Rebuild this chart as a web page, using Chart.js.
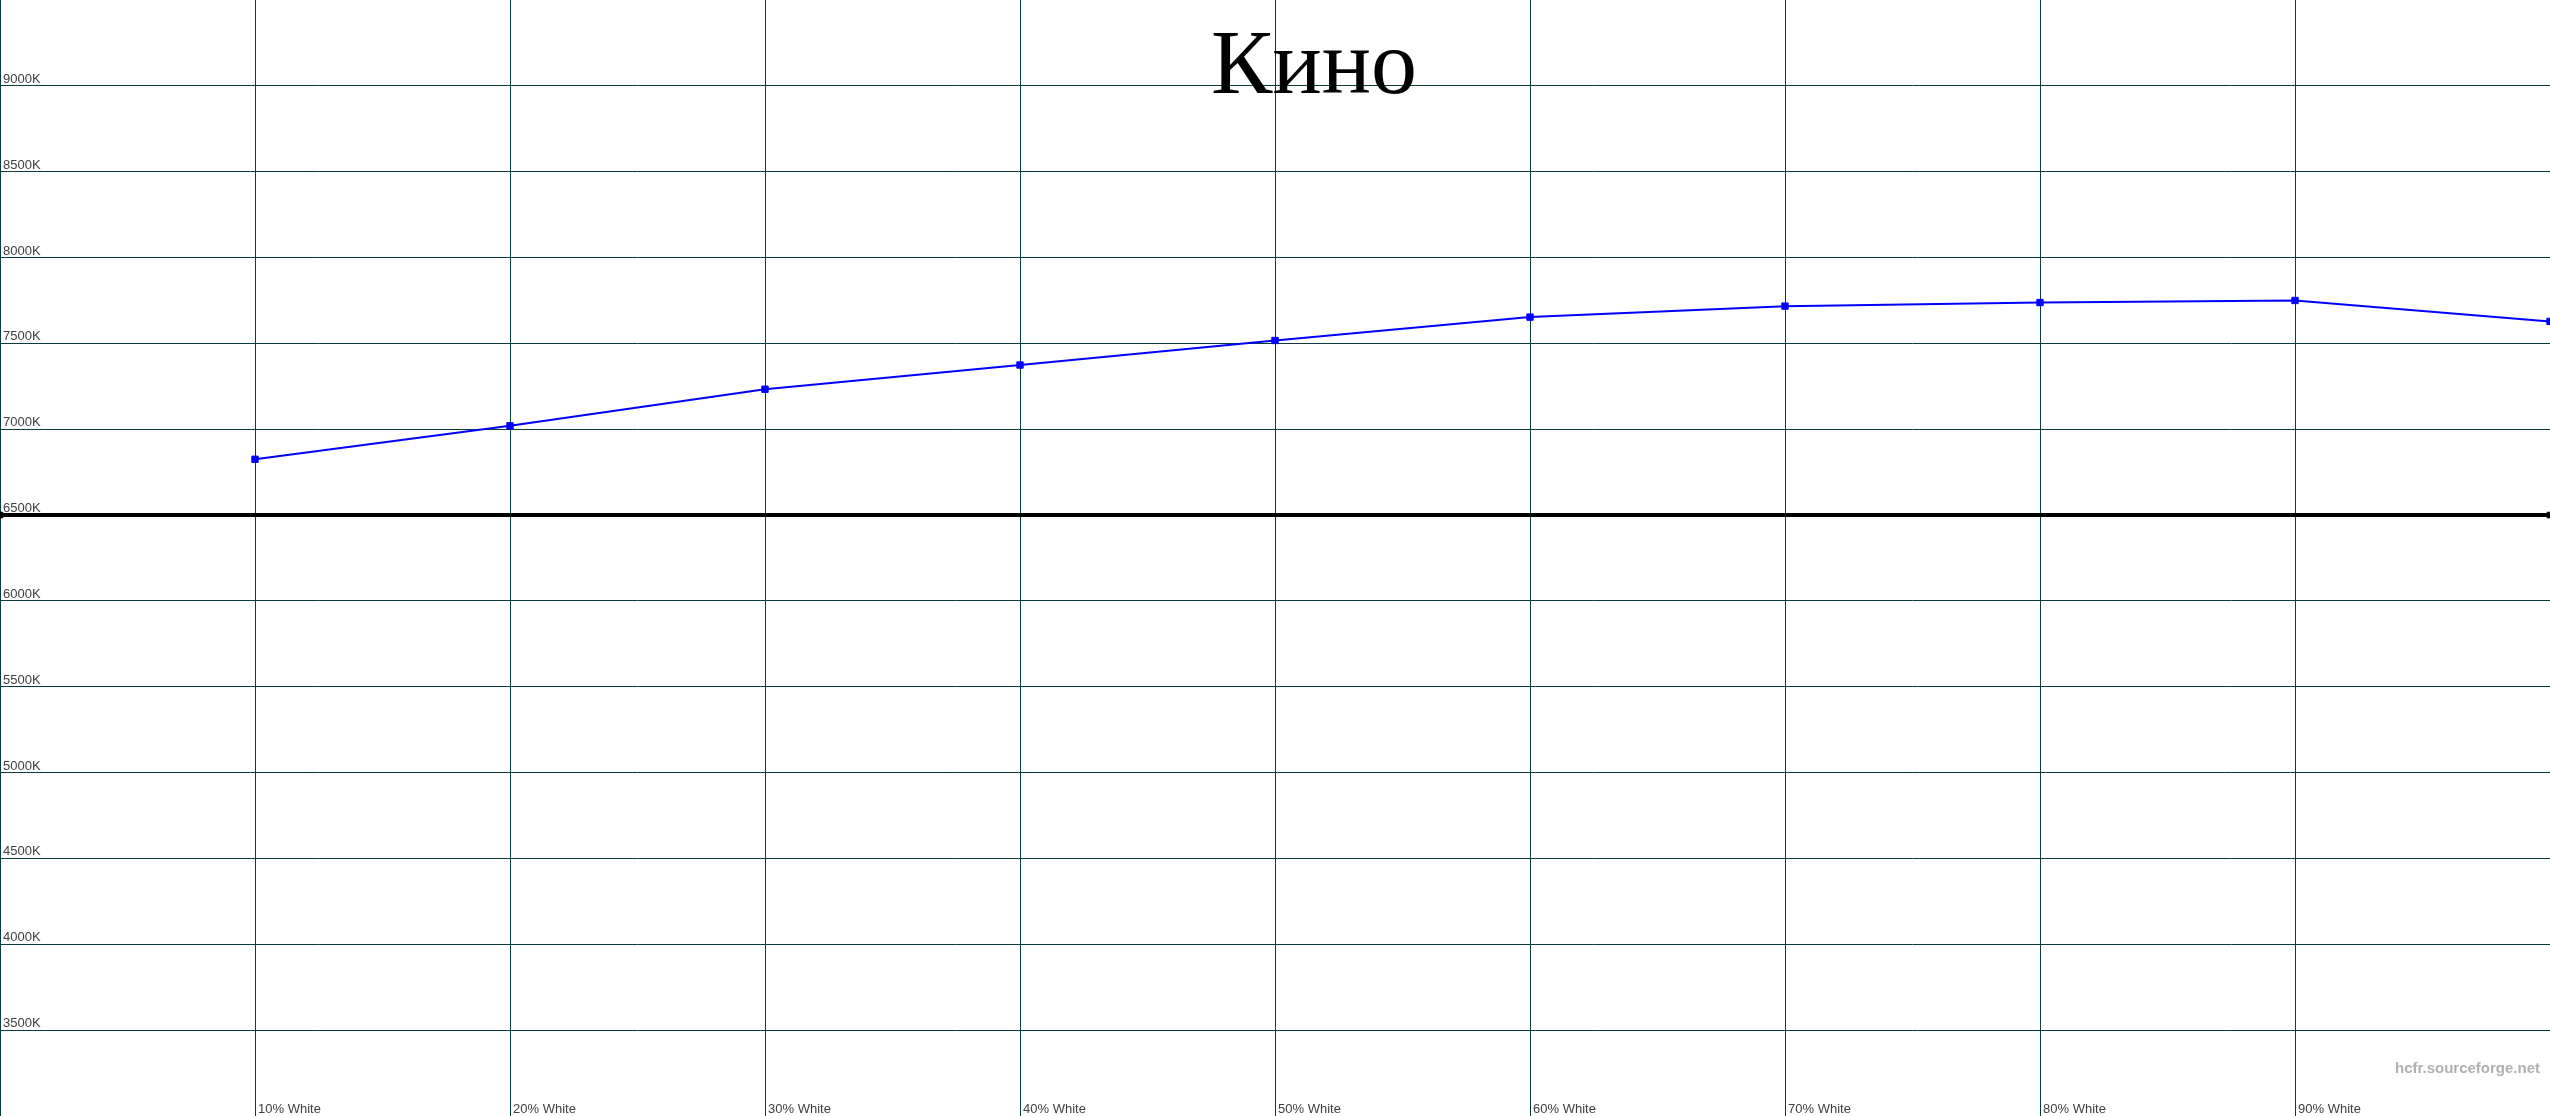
<!DOCTYPE html>
<html>
<head>
<meta charset="utf-8">
<title>Кино</title>
<script src="https://cdn.jsdelivr.net/npm/chart.js@4.4.1/dist/chart.umd.min.js"></script>
<style>
  html, body { margin: 0; padding: 0; background: #fff; overflow: hidden; }
  #chart { display: block; }
</style>
</head>
<body>
<canvas id="chart" width="2550" height="1116"></canvas>
<script>
// Colour temperature per grey level (HCFR style)
const levels = [10, 20, 30, 40, 50, 60, 70, 80, 90, 100];
const tempK = [6825, 7020, 7233, 7374, 7517, 7653, 7717, 7738, 7750, 7628];

// D65 reference line
const refLevels = [0, 100];
const refTempK = [6500, 6500];

// tick labels drawn inside the plot
const yTicks = [9000, 8500, 8000, 7500, 7000, 6500, 6000, 5500, 5000, 4500, 4000, 3500];
const xTicks = [10, 20, 30, 40, 50, 60, 70, 80, 90];
const xTickLabels = ['10% White', '20% White', '30% White', '40% White', '50% White',
                     '60% White', '70% White', '80% White', '90% White'];

const chartTitle = 'Кино';
const watermark = 'hcfr.sourceforge.net';

// Labels, title and watermark sit inside the plot area, so draw them by hand
const overlayText = {
    id: 'overlayText',
    afterDraw(chart) {
        const ctx = chart.ctx;
        const xs = chart.scales.x;
        const ys = chart.scales.y;
        const area = chart.chartArea;

        ctx.save();
        ctx.fillStyle = '#404040';
        ctx.font = '13px "Liberation Sans", Arial, sans-serif';
        ctx.textAlign = 'left';
        ctx.textBaseline = 'alphabetic';
        yTicks.forEach(v => {
            ctx.fillText(v + 'K', area.left + 3, ys.getPixelForValue(v) - 3);
        });
        xTicks.forEach((v, i) => {
            ctx.fillText(xTickLabels[i], xs.getPixelForValue(v) + 3, area.bottom - 3);
        });

        // watermark
        ctx.font = 'bold 15px "Liberation Sans", Arial, sans-serif';
        ctx.fillStyle = '#b0b0b0';
        ctx.textAlign = 'right';
        ctx.fillText(watermark, area.right - 10, area.bottom - 43);

        // title
        ctx.font = '92px "Liberation Serif", "Times New Roman", serif';
        ctx.fillStyle = '#000000';
        ctx.textAlign = 'center';
        ctx.fillText(chartTitle, 1314, 93);
        ctx.restore();
    }
};

const gridColor = '#0b3c3c';

new Chart(document.getElementById('chart'), {
    type: 'line',
    data: {
        datasets: [
            {
                label: 'Temperature',
                data: levels.map((x, i) => ({ x: x, y: tempK[i] })),
                borderColor: '#0000ff',
                backgroundColor: '#0000ff',
                borderWidth: 2,
                pointStyle: 'rect',
                pointRadius: 4.5,
                pointBorderWidth: 1,
                tension: 0,
                fill: false
            },
            {
                label: 'Reference',
                data: refLevels.map((x, i) => ({ x: x, y: refTempK[i] })),
                borderColor: '#000000',
                backgroundColor: '#000000',
                borderWidth: 4,
                pointStyle: 'rect',
                pointRadius: 4,
                pointBorderWidth: 1,
                fill: false
            }
        ]
    },
    options: {
        responsive: false,
        animation: false,
        events: [],
        layout: { padding: 0, autoPadding: false },
        plugins: {
            legend: { display: false },
            title: { display: false },
            tooltip: { enabled: false }
        },
        scales: {
            x: {
                type: 'linear',
                min: 0,
                max: 100,
                ticks: { display: false, stepSize: 10 },
                grid: { color: gridColor, lineWidth: 1, drawTicks: false },
                border: { display: false }
            },
            y: {
                min: 3000,
                max: 9500,
                ticks: { display: false, stepSize: 500 },
                grid: {
                    // no line along the very top edge
                    color: c => (c.tick && c.tick.value === 9500) ? 'rgba(0,0,0,0)' : gridColor,
                    lineWidth: 1,
                    drawTicks: false
                },
                border: { display: false }
            }
        }
    },
    plugins: [overlayText]
});
</script>
</body>
</html>
